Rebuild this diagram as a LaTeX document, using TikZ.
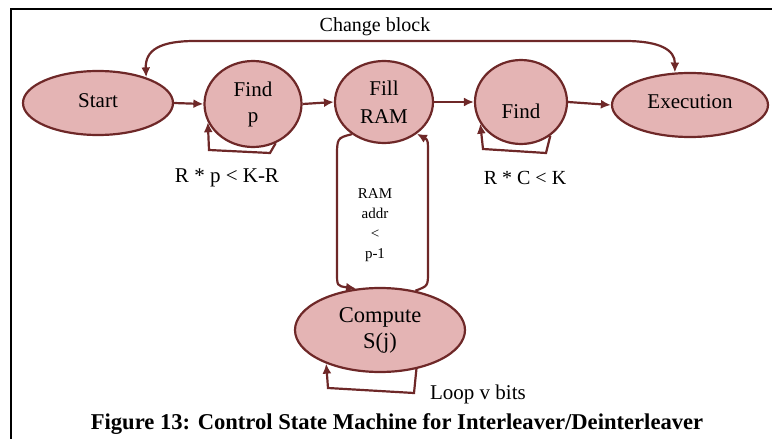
\documentclass[tikz,border=0pt]{standalone}
\usepackage{fontspec}
\setmainfont{Liberation Serif}
\usetikzlibrary{arrows.meta,shapes.geometric}
\definecolor{stfill}{RGB}{228,180,180}
\definecolor{stline}{RGB}{110,40,40}
\tikzset{
  state/.style={ellipse, draw=stline, fill=stfill, line width=2.2pt, inner sep=0pt, align=center, font=\fontsize{21}{26}\selectfont},
  arr/.style={draw=stline, line width=2.2pt, -{Latex[length=10pt,width=9pt]}},
  lbl/.style={inner sep=0pt, align=center, font=\fontsize{20}{24}\selectfont},
  frame/.style={draw=black, line width=1.6pt}
}
\begin{document}
\begin{tikzpicture}[x=1pt,y=-1pt]
\useasboundingbox (0,0) rectangle (772,439);
\coordinate (f1) at (11,439);
\coordinate (f2) at (11,9);
\coordinate (f3) at (772,9);
\draw[frame] (f1) -- (f2) -- (f3);

\node[state, minimum width=150pt, minimum height=64pt] (start) at (98,103) {\raisebox{-4pt}[0pt][0pt]{Start}};
\node[state, minimum width=97pt, minimum height=86pt] (findp) at (253,104) {Find\\p};
\node[state, minimum width=98pt, minimum height=82pt] (fill) at (384,102) {\raisebox{2pt}{Fill}\\RAM};
\node[state, minimum width=92pt, minimum height=84pt] (find) at (521,102) {\raisebox{-16pt}[0pt][0pt]{Find}};
\node[state, minimum width=156pt, minimum height=64pt] (exec) at (690,105) {\raisebox{-3pt}[0pt][0pt]{Execution}};
\node[state, minimum width=170pt, minimum height=84pt, font=\fontsize{22.5}{26}\selectfont] (comp) at (380,330) {Compute\\S(j)};

\draw[arr] (start.east) -- (findp.west);
\draw[arr] (findp.east) -- (fill.west);
\draw[arr] (fill.east) -- (find.west);
\draw[arr] (find.east) -- (exec.west);

% change block
\draw[arr, {Latex[length=10pt,width=9pt]}-{Latex[length=10pt,width=9pt]}] (start.28) .. controls (145,50) and (160,41) .. (195,41) -- (625,41) .. controls (660,41) and (675,50) .. (exec.115);
\node[lbl] (cb) at (375,27) {Change block};

% self loops
\draw[arr] (findp.-60) -- (270,153) -- (209,150) -- (findp.202);
\draw[arr] (find.-49) -- (546,153) -- (483,149) -- (find.208);
\draw[arr] (comp.-47) -- (414,393) -- (328,388) -- (comp.212);

% fill <-> compute
\draw[arr] (fill.225) .. controls (337,138) .. (337,158) -- (337,272) .. controls (337,286) .. (comp.120);
\draw[arr] (comp.48) .. controls (428,286) .. (428,272) -- (428,156) .. controls (428,140) .. (fill.-44);

\node[lbl, font=\fontsize{21}{24}\selectfont] (l1) at (227,178) {R * p < K-R};
\node[lbl] (l2) at (525,178) {R * C < K};
\node[inner sep=0pt, align=center, font=\fontsize{15}{20}\selectfont] (l3) at (375,225) {RAM\\addr\\<\\p-1};
\node[lbl, font=\fontsize{21}{24}\selectfont] (l4) at (478,394) {Loop v bits};
\node[inner sep=0pt, font=\fontsize{22.6}{24}\selectfont\bfseries] (cap) at (397,424) {Figure 13: Control State Machine for Interleaver/Deinterleaver};
\end{tikzpicture}
\end{document}
